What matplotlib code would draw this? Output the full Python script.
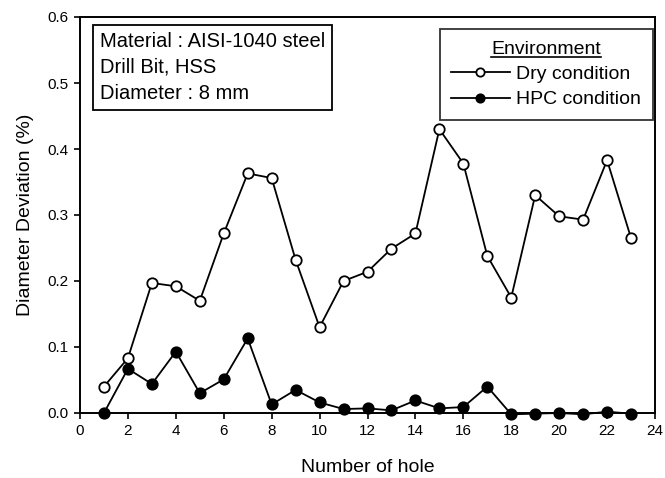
import numpy as np
import matplotlib
matplotlib.use("Agg")
import matplotlib.pyplot as plt
from matplotlib.lines import Line2D

plt.rcParams['font.family'] = ['Liberation Sans', 'DejaVu Sans']

#####################################################################
holes = list(range(1, 24))
dry = [0.040, 0.083, 0.197, 0.192, 0.170, 0.272, 0.363, 0.356, 0.232, 0.130,
       0.200, 0.214, 0.249, 0.272, 0.430, 0.378, 0.238, 0.175, 0.330, 0.298,
       0.293, 0.383, 0.265]
hpc = [0.000, 0.067, 0.044, 0.093, 0.030, 0.051, 0.113, 0.013, 0.035, 0.016,
       0.006, 0.007, 0.004, 0.019, 0.007, 0.009, 0.040, -0.002, -0.001, 0.000,
       -0.002, 0.002, -0.001]
info_lines = ["Material : AISI-1040 steel", "Drill Bit, HSS", "Diameter : 8 mm"]

#####################################################################
W, H = 665, 478
fig = plt.figure(figsize=(W / 100, H / 100), dpi=100)
ax = fig.add_axes([80 / W, 1 - 413 / H, 575 / W, 396 / H])

ax.plot(holes, dry, '-o', color='black', mfc='white', mec='black',
        ms=7.5, lw=1.3, mew=1.3, label='Dry condition', clip_on=False)
ax.plot(holes, hpc, '-o', color='black', mfc='black', mec='black',
        ms=7.5, lw=1.3, mew=1.3, label='HPC condition', clip_on=False)

ax.set_xlim(0, 24)
ax.set_ylim(0.0, 0.6)
ax.set_xticks(range(0, 25, 2))
ax.set_yticks(np.arange(0, 0.61, 0.1))
ax.set_yticklabels([f"{v:.1f}" for v in np.arange(0, 0.61, 0.1)])
ax.tick_params(direction='out', length=4, width=1.2, labelsize=11, pad=4)
for s in ax.spines.values():
    s.set_linewidth(1.4)

ax.set_xlabel("Number of hole", fontsize=14, labelpad=15)
ax.set_ylabel("Diameter Deviation (%)", fontsize=14, labelpad=10)

# info box
ax.text(0.034, 0.962, "\n".join(info_lines), transform=ax.transAxes,
        ha='left', va='top', fontsize=14.5, linespacing=1.45,
        bbox=dict(boxstyle='square,pad=0.35', fc='white', ec='black', lw=1.3))

leg = ax.legend(loc='upper right', bbox_to_anchor=(0.9965, 0.97),
                title="Environment", fontsize=14, title_fontsize=14,
                frameon=True, fancybox=False, edgecolor='black',
                handlelength=3.0, handletextpad=0.35, borderpad=0.6,
                labelspacing=0.4, borderaxespad=0.0, markerscale=0.8)
leg.get_frame().set_linewidth(1.3)

# underline the legend title
fig.canvas.draw()
bb = leg.get_title().get_window_extent()
fig.add_artist(Line2D([bb.x0 / W, bb.x1 / W], [(bb.y0 + 1) / H] * 2,
                      transform=fig.transFigure, color='black', lw=1.2))

fig.savefig("out.png", dpi=100)
